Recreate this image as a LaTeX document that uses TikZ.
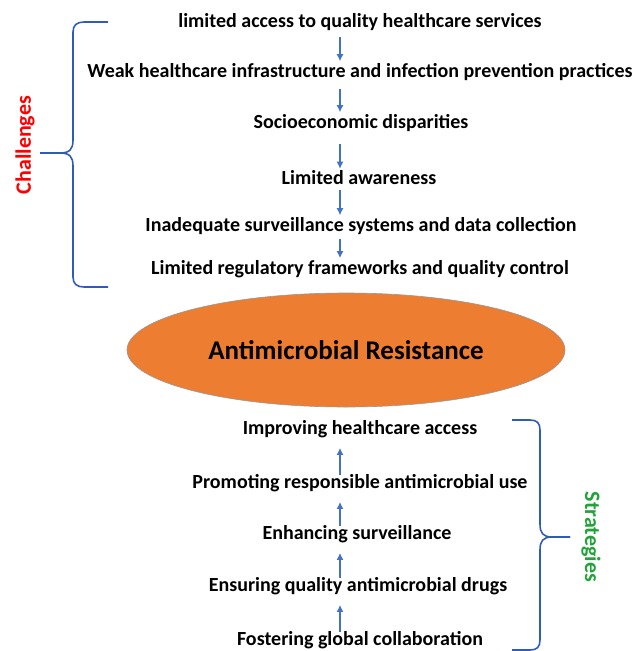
\documentclass[tikz,border=0pt]{standalone}
\usepackage{fontspec}
\setmainfont{Carlito}
\usetikzlibrary{shapes.geometric,arrows.meta}

\definecolor{amrorange}{HTML}{ED7D31}
\definecolor{flowblue}{HTML}{4472C4}
\definecolor{bracerblue}{HTML}{2F5DB6}
\definecolor{stratgreen}{HTML}{22A33A}

\tikzset{
  item/.style={font=\fontsize{20}{24}\selectfont\bfseries, inner sep=1pt},
  flow/.style={flowblue, line width=1.2pt, -{Latex[length=7pt,width=7pt]}, shorten <=5pt, shorten >=1pt},
  flowup/.style={flow, shorten <=-2pt, shorten >=9pt},
  bracer/.style={bracerblue, line width=1.6pt}
}

\begin{document}
\begin{tikzpicture}[x=1pt,y=-1pt]
\useasboundingbox (0,0) rectangle (635,651);
% challenges
\node[item] (c1) at (360,22) {limited access to quality healthcare services};
\node[item] (c2) at (360,72) {Weak healthcare infrastructure and infection prevention practices};
\node[item] (c3) at (361,123) {Socioeconomic disparities};
\node[item] (c4) at (359,178) {Limited awareness};
\node[item] (c5) at (361,226) {Inadequate surveillance systems and data collection};
\node[item] (c6) at (360,269) {Limited regulatory frameworks and quality control};
\coordinate (ax) at (340,0);
\draw[flow] (c1.south -| ax) -- (c2.north -| ax);
\draw[flow, shorten <=7pt] (c2.south -| ax) -- (c3.north -| ax);
\draw[flow, shorten <=11pt] (c3.south -| ax) -- (c4.north -| ax);
\draw[flow, shorten <=4pt] (c4.south -| ax) -- (c5.north -| ax);
\draw[flow, shorten <=3pt] (c5.south -| ax) -- (c6.north -| ax);
% left brace
\draw[bracer] (108,22) -- (84,22) .. controls (77,22) and (73,25) .. (73,32)
  -- (73,140) .. controls (73,149) and (70,153) .. (60,153) -- (40,153);
\draw[bracer] (40,153) -- (60,153) .. controls (70,153) and (73,157) .. (73,166)
  -- (73,277) .. controls (73,284) and (77,287) .. (84,287) -- (108,287);
\node[font=\fontsize{22}{26}\selectfont\bfseries, text=red, rotate=90] (chal) at (25,145) {Challenges};

% centre
\node[ellipse, fill=amrorange, draw=gray!80, line width=0.6pt,
  minimum width=438pt, minimum height=114pt, inner sep=0pt,
  font=\fontsize{27}{30}\selectfont\bfseries] (amr) at (346,350) {Antimicrobial Resistance};

% strategies
\node[item] (s1) at (360,429) {Improving healthcare access};
\node[item] (s2) at (360,483) {Promoting responsible antimicrobial use};
\node[item] (s3) at (357,534) {Enhancing surveillance};
\node[item] (s4) at (358,586) {Ensuring quality antimicrobial drugs};
\node[item] (s5) at (360,640) {Fostering global collaboration};
\draw[flowup] (s5.north -| ax) -- (s4.south -| ax);
\draw[flowup] (s4.north -| ax) -- (s3.south -| ax);
\draw[flowup] (s3.north -| ax) -- (s2.south -| ax);
\draw[flowup] (s2.north -| ax) -- (s1.south -| ax);
% right brace
\draw[bracer] (512,420) -- (530,420) .. controls (537,420) and (540,423) .. (540,430)
  -- (540,524) .. controls (540,533) and (543,537) .. (552,537) -- (570,537);
\draw[bracer] (570,537) -- (552,537) .. controls (543,537) and (540,541) .. (540,550)
  -- (540,640) .. controls (540,647) and (537,650) .. (530,650) -- (512,650);
\node[font=\fontsize{22}{26}\selectfont\bfseries, text=stratgreen, rotate=-90] (strat) at (591,537) {Strategies};
\end{tikzpicture}
\end{document}
